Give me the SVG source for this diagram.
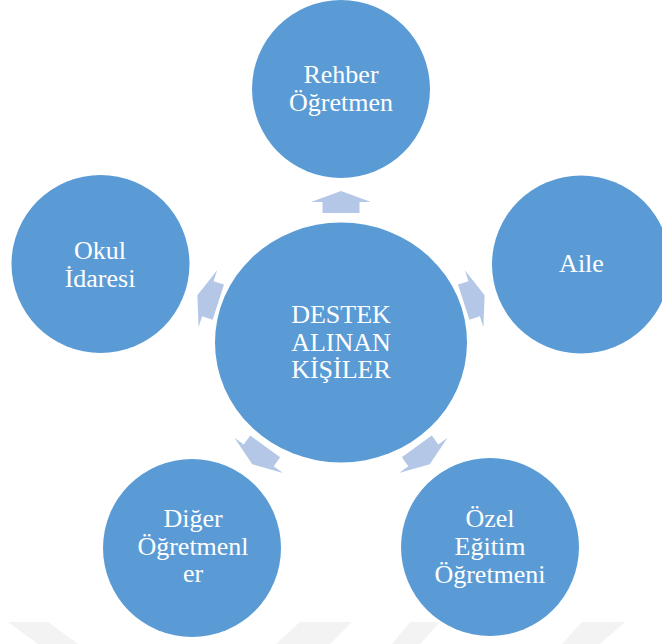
<svg xmlns="http://www.w3.org/2000/svg" width="662" height="644" viewBox="0 0 662 644">
<style>
.node{fill:#5b9bd5;}
.lbl{font-family:'Liberation Serif','Times New Roman','DejaVu Serif',serif;font-size:26px;fill:#ffffff;text-anchor:middle;}
.arr{fill:#b4c7e7;}
.wm{fill:#f3f3f3;}
</style>
<defs>
<polygon id="arrow" points="-18.5,-129 18.5,-129 18.5,-140 30,-140 0,-151 -30,-140 -18.5,-140"/>
</defs>
<rect width="662" height="644" fill="#ffffff"/>
<g id="watermark">
<polygon class="wm" points="8,622 48,622 78,644 38,644"/>
<polygon class="wm" points="300,622 352,622 330,644 276,644"/>
<polygon class="wm" points="410,622 440,622 420,644 392,644"/>
<polygon class="wm" points="582,622 625,622 600,644 562,644"/>
</g>
<g id="connectors">
<use href="#arrow" class="arr" transform="translate(341,342) rotate(0)"/>
<use href="#arrow" class="arr" transform="translate(341,342) rotate(72)"/>
<use href="#arrow" class="arr" transform="translate(341,342) rotate(144)"/>
<use href="#arrow" class="arr" transform="translate(341,342) rotate(216)"/>
<use href="#arrow" class="arr" transform="translate(341,342) rotate(288)"/>
</g>
<g id="center">
<ellipse class="node" cx="341" cy="342.5" rx="126" ry="120"/>
<text class="lbl" x="341" y="323">DESTEK</text>
<text class="lbl" x="341" y="351">ALINAN</text>
<text class="lbl" x="341" y="378">KİŞİLER</text>
</g>
<g id="rehber">
<circle class="node" cx="341" cy="89" r="89"/>
<text class="lbl" x="341" y="83">Rehber</text>
<text class="lbl" x="341" y="111">Öğretmen</text>
</g>
<g id="aile">
<circle class="node" cx="581" cy="264.5" r="89"/>
<text class="lbl" x="581.5" y="272">Aile</text>
</g>
<g id="ozel">
<circle class="node" cx="490" cy="547" r="89"/>
<text class="lbl" x="490" y="527">Özel</text>
<text class="lbl" x="490" y="555">Eğitim</text>
<text class="lbl" x="490" y="583">Öğretmeni</text>
</g>
<g id="diger">
<circle class="node" cx="192" cy="548" r="89"/>
<text class="lbl" x="193" y="527">Diğer</text>
<text class="lbl" x="193" y="555">Öğretmenl</text>
<text class="lbl" x="193" y="582">er</text>
</g>
<g id="okul">
<circle class="node" cx="100.5" cy="264" r="89"/>
<text class="lbl" x="100" y="259">Okul</text>
<text class="lbl" x="100" y="287">İdaresi</text>
</g>
</svg>
